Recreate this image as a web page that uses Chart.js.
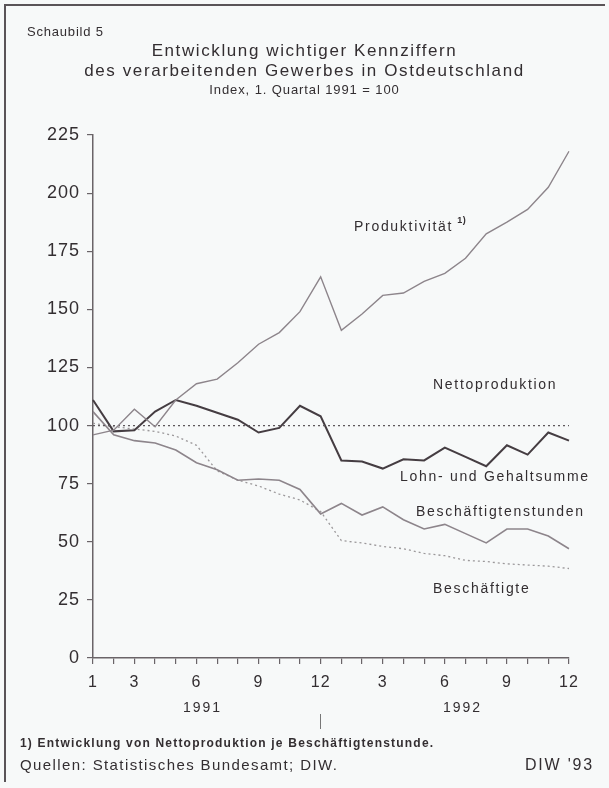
<!DOCTYPE html>
<html>
<head>
<meta charset="utf-8">
<script src="https://cdn.jsdelivr.net/npm/chart.js@4.4.1/dist/chart.umd.min.js"></script>
<style>
  html, body { margin: 0; padding: 0; background: #f7f9f9; }
  #wrap { position: relative; width: 609px; height: 788px; background: #f7f9f9; overflow: hidden;
          font-family: 'Liberation Sans', Arial, Helvetica, sans-serif; color: #332e31; }
  #frameTop { position: absolute; left: 5px; top: 4px; width: 600px; height: 2px; background: #5a5458; }
  #frameLeft { position: absolute; left: 4px; top: 4px; width: 2px; height: 778px; background: #5a5458; }
  canvas { position: absolute; left: 0; top: 0; }
  .t { position: absolute; white-space: nowrap; }
  #schaubild { left: 27px; top: 24px; font-size: 13px; letter-spacing: 0.8px; }
  #title1 { left: 0; width: 609px; text-align: center; top: 41px; font-size: 17px; letter-spacing: 1.6px; }
  #title2 { left: 0; width: 609px; text-align: center; top: 61px; font-size: 17px; letter-spacing: 1.6px; }
  #title3 { left: 0; width: 609px; text-align: center; top: 82px; font-size: 13px; letter-spacing: 0.9px; }
  #y1991 { left: 183px; top: 699px; font-size: 14px; letter-spacing: 2px; }
  #y1992 { left: 443px; top: 699px; font-size: 14px; letter-spacing: 2px; }
  #sep { left: 320px; top: 714px; width: 1px; height: 15px; background: #777; }
  #fn { left: 20px; top: 736px; font-size: 12px; font-weight: bold; letter-spacing: 1.2px; }
  #src { left: 20px; top: 756px; font-size: 15px; letter-spacing: 1.4px; }
  #diw { right: 15px; top: 756px; font-size: 16px; letter-spacing: 1.8px; }
</style>
</head>
<body>
<div id="wrap">
  <canvas id="c" width="609" height="788"></canvas>
  <div id="frameTop"></div>
  <div id="frameLeft"></div>
  <div class="t" id="schaubild">Schaubild 5</div>
  <div class="t" id="title1">Entwicklung wichtiger Kennziffern</div>
  <div class="t" id="title2">des verarbeitenden Gewerbes in Ostdeutschland</div>
  <div class="t" id="title3">Index, 1. Quartal 1991 = 100</div>
  <div class="t" id="y1991">1991</div>
  <div class="t" id="y1992">1992</div>
  <div class="t" id="sep"></div>
  <div class="t" id="fn">1) Entwicklung von Nettoproduktion je Beschäftigtenstunde.</div>
  <div class="t" id="src">Quellen: Statistisches Bundesamt; DIW.</div>
  <div class="t" id="diw">DIW '93</div>
</div>
<script>
// Months Jan 1991 .. Dec 1992
const months = ['1','2','3','4','5','6','7','8','9','10','11','12',
                '1','2','3','4','5','6','7','8','9','10','11','12'];
// tick labels printed under the axis (empty = tick only)
const monthTickLabels = ['1','','3','','','6','','','9','','','12',
                         '','','3','','','6','','','9','','','12'];
const yTicks = [0, 25, 50, 75, 100, 125, 150, 175, 200, 225];

const produktivitaet = [96, 98, 107, 99.5, 111, 118, 120, 127, 135, 140, 149, 164,
                        141, 148, 156, 157, 162, 165.5, 172, 182.5, 187.5, 193, 202.5, 218];
const nettoproduktion = [100, 100, 100, 100, 100, 100, 100, 100, 100, 100, 100, 100,
                         100, 100, 100, 100, 100, 100, 100, 100, 100, 100, 100, 100];
const lohnGehalt = [111, 97.5, 98, 106, 111, 108.5, 105.5, 102.5, 97, 99, 108.5, 104,
                    85, 84.5, 81.5, 85.5, 85, 90.5, 86.5, 82.5, 91.5, 87.5, 97, 93.5];
const stunden = [106, 96, 93.5, 92.5, 89.5, 84, 81, 76.5, 77, 76.5, 72.5, 62,
                 66.5, 61.5, 65, 59.5, 55.5, 57.5, 53.5, 49.5, 55.5, 55.5, 52.5, 47];
const beschaeftigte = [101, 99.5, 98.5, 97.5, 95.5, 91.5, 80.5, 76.5, 74, 70.5, 68, 63,
                       50.5, 49.5, 48, 47, 45, 44, 42, 41.5, 40.5, 40, 39.5, 38.5];

const seriesNames = ['Produktivität', 'Nettoproduktion', 'Lohn- und Gehaltsumme',
                     'Beschäftigtenstunden', 'Beschäftigte'];

const TXT = '#332e31';
const FONT = "'Liberation Sans', Arial, Helvetica, sans-serif";

// in-plot series labels (pixel anchors, left edge / vertical middle)
const seriesLabels = [
  { text: 'Produktivität', x: 354, y: 227 },
  { text: 'Nettoproduktion', x: 433, y: 385 },
  { text: 'Lohn- und Gehaltsumme', x: 400, y: 477 },
  { text: 'Beschäftigtenstunden', x: 416, y: 512 },
  { text: 'Beschäftigte', x: 433, y: 589 }
];

const spacingPlugin = {
  id: 'spacing',
  beforeDraw(chart) {
    try { chart.ctx.letterSpacing = '1px'; } catch (e) {}
  }
};

const labelPlugin = {
  id: 'seriesLabels',
  afterDraw(chart) {
    const ctx = chart.ctx;
    ctx.save();
    ctx.fillStyle = TXT;
    ctx.textBaseline = 'middle';
    ctx.textAlign = 'left';
    ctx.font = "14px " + FONT;
    try { ctx.letterSpacing = '1.7px'; } catch (e) {}
    let prodEnd = 0;
    seriesLabels.forEach((l, i) => {
      ctx.fillText(l.text, l.x, l.y);
      if (i === 0) prodEnd = l.x + ctx.measureText(l.text).width;
    });
    ctx.font = "bold 9px " + FONT;
    try { ctx.letterSpacing = '0.5px'; } catch (e) {}
    ctx.fillText('1)', prodEnd + 4, 221);
    ctx.restore();
  }
};

const common = { pointRadius: 0, tension: 0, fill: false };

new Chart(document.getElementById('c'), {
  type: 'line',
  data: {
    labels: months,
    datasets: [
      { ...common, label: seriesNames[0], data: produktivitaet, borderColor: '#8d858b', borderWidth: 1.4 },
      { ...common, label: seriesNames[1], data: nettoproduktion, borderColor: '#5d575b', borderWidth: 1.3, borderDash: [2, 3] },
      { ...common, label: seriesNames[2], data: lohnGehalt, borderColor: '#453d42', borderWidth: 2 },
      { ...common, label: seriesNames[3], data: stunden, borderColor: '#8d858b', borderWidth: 1.6 },
      { ...common, label: seriesNames[4], data: beschaeftigte, borderColor: '#9b989a', borderWidth: 1.3, borderDash: [2, 3] }
    ]
  },
  options: {
    responsive: false,
    devicePixelRatio: 1,
    animation: false,
    layout: { padding: { left: 0, top: 135, right: 40, bottom: 90 } },
    plugins: { legend: { display: false }, title: { display: false }, tooltip: { enabled: false } },
    scales: {
      x: {
        type: 'category',
        offset: false,
        afterFit(scale) { scale.height = 40; },
        border: { display: true, color: '#6a6468', width: 1.5 },
        grid: { display: true, drawOnChartArea: false, drawTicks: true, tickLength: 6, color: '#6a6468', lineWidth: 1.2 },
        ticks: {
          autoSkip: false, maxRotation: 0, padding: 9, color: TXT,
          font: { family: FONT, size: 16 },
          callback(value, index) { return monthTickLabels[index]; }
        }
      },
      y: {
        min: 0, max: 225,
        afterFit(scale) { scale.width = 93; },
        afterBuildTicks(scale) { scale.ticks = yTicks.map(v => ({ value: v })); },
        border: { display: true, color: '#6a6468', width: 1.5 },
        grid: { display: true, drawOnChartArea: false, drawTicks: true, tickLength: 6, color: '#6a6468', lineWidth: 1.2 },
        ticks: { padding: 7, color: TXT, font: { family: FONT, size: 18 } }
      }
    }
  },
  plugins: [spacingPlugin, labelPlugin]
});
</script>
</body>
</html>
